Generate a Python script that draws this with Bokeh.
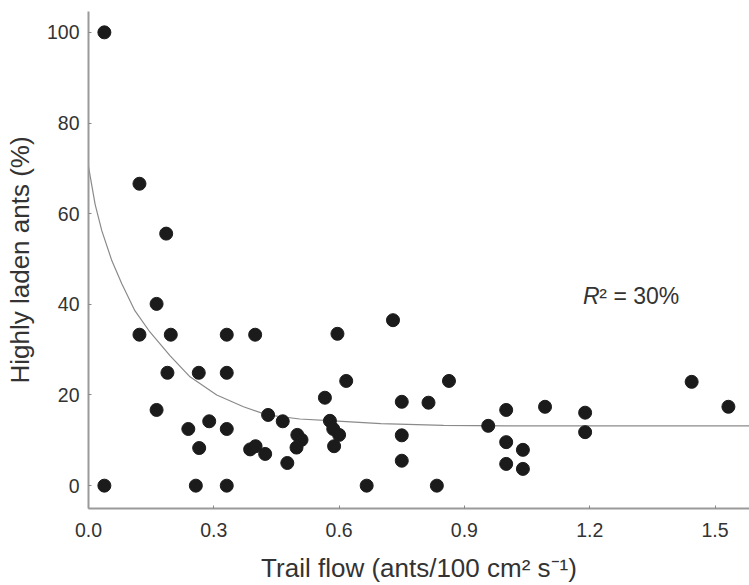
from bokeh.plotting import figure
from bokeh.models import FixedTicker, PrintfTickFormatter, Range1d, ColumnDataSource
from bokeh.core.properties import value
from bokeh.embed import file_html
from bokeh.resources import INLINE

# Data
flow = [0.038, 0.038, 0.122, 0.122, 0.163, 0.163, 0.186, 0.189, 0.197, 0.239,
        0.257, 0.264, 0.265, 0.289, 0.331, 0.331, 0.331, 0.331, 0.399, 0.387,
        0.400, 0.423, 0.430, 0.465, 0.476, 0.500, 0.498, 0.510, 0.566, 0.578,
        0.586, 0.600, 0.588, 0.596, 0.617, 0.666, 0.729, 0.750, 0.750, 0.750,
        0.814, 0.834, 0.863, 0.957, 1.000, 1.000, 1.000, 1.040, 1.040, 1.093,
        1.189, 1.189, 1.444, 1.532]
laden = [100.0, 0.0, 66.6, 33.3, 40.1, 16.7, 55.6, 24.9, 33.3, 12.5,
         0.0, 24.9, 8.3, 14.2, 33.3, 24.9, 12.5, 0.0, 33.3, 8.0,
         8.7, 7.0, 15.6, 14.2, 5.0, 11.2, 8.4, 10.1, 19.4, 14.3,
         12.5, 11.2, 8.7, 33.5, 23.1, 0.0, 36.5, 18.5, 11.1, 5.5,
         18.3, 0.0, 23.1, 13.2, 16.7, 9.6, 4.8, 7.9, 3.7, 17.4,
         16.1, 11.8, 22.9, 17.4]

# Fitted curve, points
fit_x = [0.0, 0.016, 0.032, 0.056, 0.080, 0.111, 0.147, 0.195, 0.243, 0.307,
         0.371, 0.427, 0.506, 0.586, 0.700, 0.850, 1.000, 1.583]
fit_y = [70.4, 62.0, 56.2, 49.6, 44.5, 38.6, 33.9, 28.7, 24.0, 20.0,
         17.4, 15.6, 14.7, 14.3, 13.7, 13.3, 13.2, 13.2]

x_ticks = [0.0, 0.3, 0.6, 0.9, 1.2, 1.5]
y_ticks = [0, 20, 40, 60, 80, 100]

x_title = "Trail flow (ants/100 cm\u00b2 s\u207b\u00b9)"
y_title = "Highly laden ants (%)"
r2_main = "R"
r2_rest = "\u00b2 = 30%"

FONT = "Liberation Sans"

p = figure(width=749, height=585, output_backend="svg", toolbar_location=None,
           x_range=Range1d(0, 1.5825), y_range=Range1d(-5.04, 104.6),
           min_border_left=88, min_border_right=0, min_border_top=11,
           min_border_bottom=74)
p.outline_line_color = None
p.xgrid.visible = False
p.ygrid.visible = False
p.background_fill_color = "white"
p.border_fill_color = "white"

p.line(fit_x, fit_y, line_color="#8a8a8a", line_width=1.2)

src = ColumnDataSource(dict(x=flow, y=laden))
p.scatter("x", "y", source=src, size=13, fill_color="#1b1b1b", line_color="#1b1b1b")

p.text(x=[1.184], y=[41.9], text=[r2_main], text_font=value(FONT),
       text_font_size="23px", text_font_style="italic", text_color="#333333",
       text_align="left", text_baseline="alphabetic")
p.text(x=[1.223], y=[41.9], text=[r2_rest], text_font=value(FONT),
       text_font_size="23px", text_color="#333333",
       text_align="left", text_baseline="alphabetic")

for ax in (p.xaxis[0], p.yaxis[0]):
    ax.axis_line_color = "#9a9a9a"
    ax.axis_line_width = 2
    ax.major_tick_in = 3
    ax.major_tick_out = 0
    ax.major_tick_line_color = "#888888"
    ax.minor_tick_line_color = None
    ax.major_label_text_font = FONT
    ax.major_label_text_font_size = "19.5px"
    ax.major_label_text_color = "#333333"
    ax.axis_label_text_font = FONT
    ax.axis_label_text_font_size = "26px"
    ax.axis_label_text_font_style = "normal"
    ax.axis_label_text_color = "#333333"

p.xaxis[0].ticker = FixedTicker(ticks=x_ticks)
p.xaxis[0].formatter = PrintfTickFormatter(format="%.1f")
p.xaxis[0].axis_label = x_title
p.xaxis[0].major_label_standoff = 14
p.xaxis[0].axis_label_standoff = 13

p.yaxis[0].ticker = FixedTicker(ticks=y_ticks)
p.yaxis[0].formatter = PrintfTickFormatter(format="%d")
p.yaxis[0].axis_label = y_title
p.yaxis[0].major_label_standoff = 9
p.yaxis[0].axis_label_standoff = 9

open("out.html", "w").write(file_html(p, INLINE))
